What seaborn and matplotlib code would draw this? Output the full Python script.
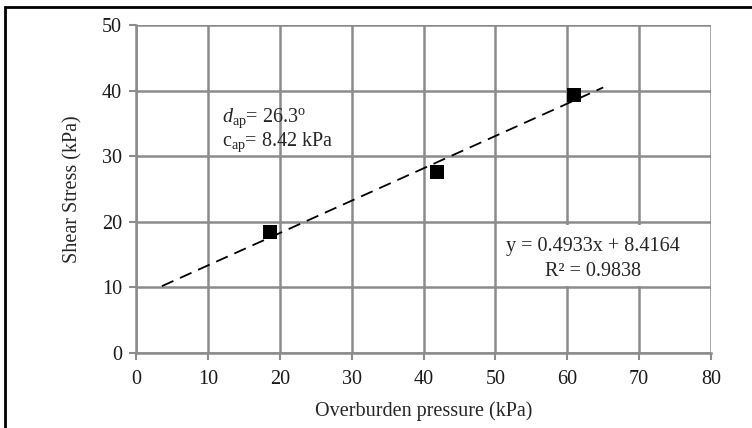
import matplotlib
matplotlib.use("Agg")
import matplotlib.pyplot as plt
import numpy as np
import pandas as pd
import seaborn as sns
from matplotlib.patches import Rectangle

# Direct shear test results
overburden = [18.6, 41.9, 61.0]
shear = [18.5, 27.6, 39.4]

# Linear fit reported on the chart
slope = 0.4933
intercept = 8.4164
r_squared = 0.9838
fit_x = [3.6, 65.0]

x_ticks = [0, 10, 20, 30, 40, 50, 60, 70, 80]
y_ticks = [0, 10, 20, 30, 40, 50]

sns.set_theme(style="white")
plt.rcParams["font.family"] = ["Liberation Serif", "DejaVu Serif"]
plt.rcParams["mathtext.fontset"] = "custom"
plt.rcParams["mathtext.rm"] = "Liberation Serif"
plt.rcParams["mathtext.it"] = "Liberation Serif:italic"

grid_c = "#8c8c8c"
fs = 14.5

fig = plt.figure(figsize=(7.52, 4.28), dpi=100)
ax = fig.add_axes([136 / 752, 1 - 353 / 428, (711 - 136) / 752, (353 - 25) / 428])

ax.set_xlim(0, 80)
ax.set_ylim(0, 50)
ax.set_xticks(x_ticks)
ax.set_yticks(y_ticks)
ax.grid(True, color=grid_c, linewidth=1.8)
ax.set_axisbelow(True)
for s in ax.spines.values():
    s.set_visible(False)
for side in ("left", "bottom"):
    ax.spines[side].set_visible(True)
    ax.spines[side].set_color(grid_c)
    ax.spines[side].set_linewidth(1.8)
ax.tick_params(axis="both", direction="out", length=5, width=1.5, color=grid_c,
               labelsize=fs, labelcolor="#1a1a1a", bottom=True, left=True, pad=5)
ax.tick_params(axis="x", pad=7)

# Trend line
fit_df = pd.DataFrame({"x": fit_x, "y": [slope * v + intercept for v in fit_x]})
sns.lineplot(data=fit_df, x="x", y="y", ax=ax, color="black", linewidth=1.3,
             linestyle=(0, (7, 4)), zorder=3)

# Measured points
pts = pd.DataFrame({"x": overburden, "y": shear})
sns.scatterplot(data=pts, x="x", y="y", ax=ax, marker="s", s=105, color="black",
                edgecolor="black", linewidth=0, zorder=4)

ax.set_xlabel("Overburden pressure (kPa)", fontsize=fs, labelpad=9)
ax.set_ylabel("Shear Stress (kPa)", fontsize=fs, labelpad=14)

# Strength parameters
ax.text(12.0, 35.8, r"$\mathit{d}_{\mathrm{ap}}$= 26.3$^{\mathrm{o}}$", fontsize=fs, ha="left", va="center")
ax.text(12.0, 32.2, r"c$_{\mathrm{ap}}$= 8.42 kPa", fontsize=fs, ha="left", va="center")

# Fit equation box
ax.add_patch(Rectangle((50.2, 10.15), 27.6, 9.4, facecolor="white", edgecolor="none", zorder=2.5))
ax.text(63.6, 16.2, f"y = {slope}x + {intercept}", fontsize=fs, ha="center", va="center", zorder=5)
ax.text(63.6, 12.35, f"R² = {r_squared}", fontsize=fs, ha="center", va="center", zorder=5)

# Outer frame
fig.patches.append(Rectangle((5 / 752, -0.05), 1.2, 1 - 7 / 428 + 0.05, transform=fig.transFigure,
                             fill=False, edgecolor="black", linewidth=2.0))

fig.savefig("out.png", dpi=100)
